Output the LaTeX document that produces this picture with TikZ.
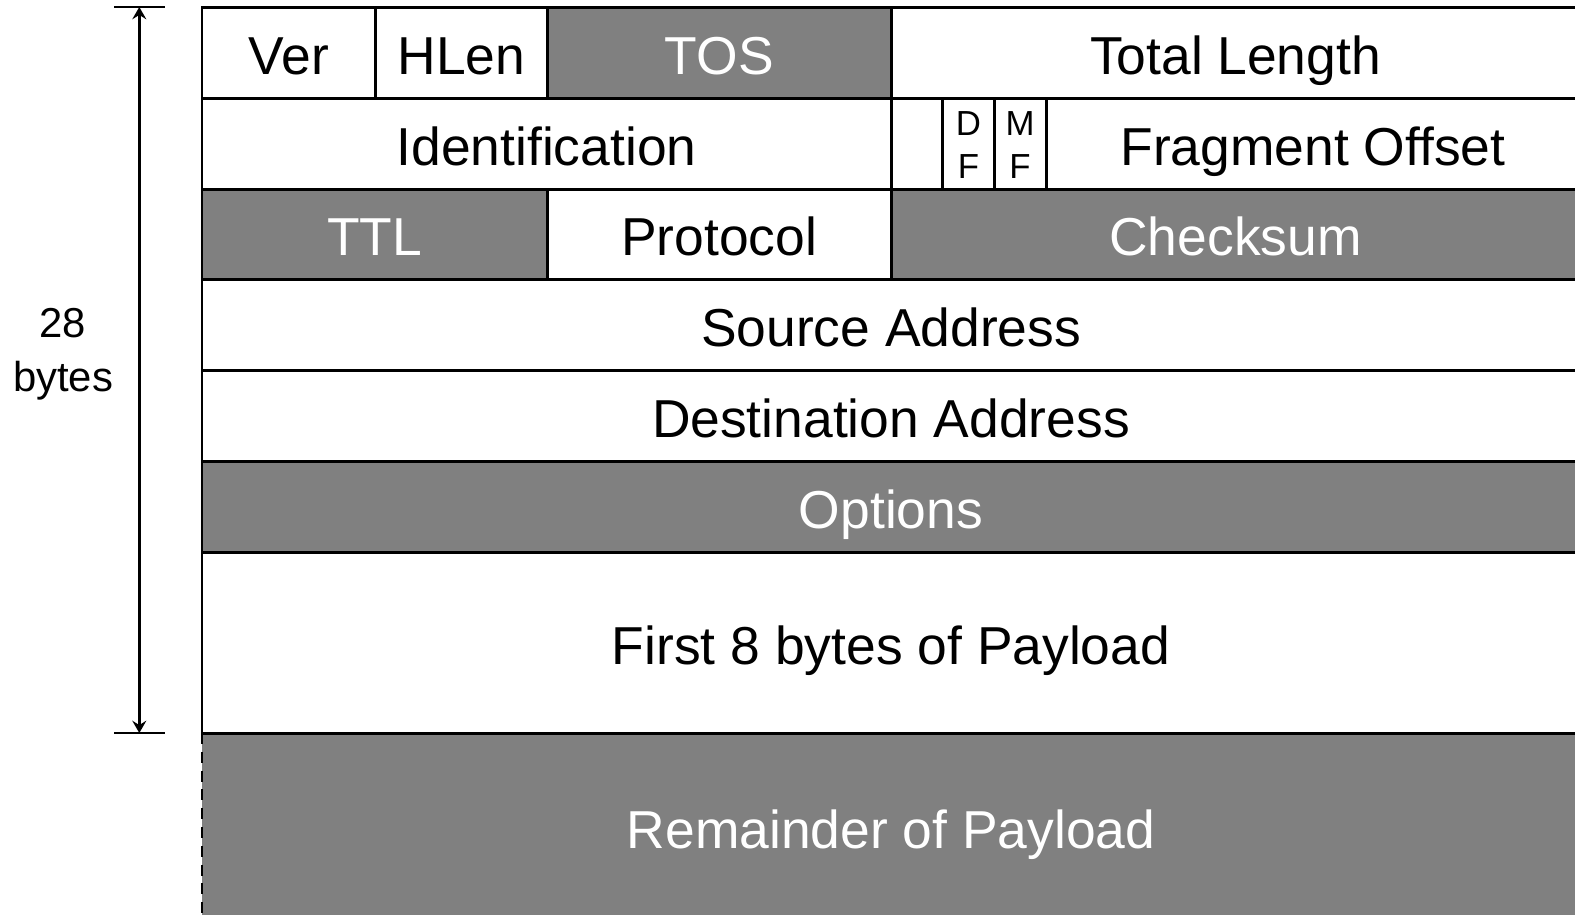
\documentclass[tikz,border=0pt]{standalone}
\usepackage{fontspec}
\setmainfont{Liberation Sans}
\usetikzlibrary{arrows.meta}

\begin{document}
\begin{tikzpicture}[x=0.02cm,y=-0.02cm,
    cell/.style={line width=1.7pt},
    lbl/.style={font=\fontsize{30.4}{36}\selectfont, text height=24.6pt, text depth=0pt, inner sep=0pt},
    lblw/.style={lbl, text=white},
    flag/.style={font=\fontsize{19.8}{24.7}\selectfont, align=center, inner sep=0pt},
    dimline/.style={line width=1.4pt}]
  \useasboundingbox (0,0) rectangle (1575,914);
  \clip (0,0) rectangle (1575,914);
  % shaded fields
  \fill[gray] (547.5,7) rectangle (891,98);
  \fill[gray] (202,189) rectangle (547.5,279.5);
  \fill[gray] (891,189) rectangle (1580,279.5);
  \fill[gray] (202,461) rectangle (1580,552);
  \fill[gray] (202,733) rectangle (1580,930);
  % row 1
  \draw[cell] (202,7) rectangle (375.5,98);
  \draw[cell] (375.5,7) rectangle (547.5,98);
  \draw[cell] (547.5,7) rectangle (891,98);
  \draw[cell] (891,7) rectangle (1580,98);
  \node[lbl] (ver) at (288.75,52.5) {Ver};
  \node[lbl] (hlen) at (461.5,52.5) {HLen};
  \node[lblw] (tos) at (719.25,52.5) {TOS};
  \node[lbl] (totlen) at (1235.5,52.5) {Total Length};
  % row 2
  \draw[cell] (202,98) rectangle (891,189);
  \draw[cell] (891,98) rectangle (942.7,189);
  \draw[cell] (942.7,98) rectangle (994,189);
  \draw[cell] (994,98) rectangle (1046,189);
  \draw[cell] (1046,98) rectangle (1580,189);
  \node[lbl] (ident) at (546.5,143.5) {Identification};
  \node[flag] (df) at (968.4,145) {D\\F};
  \node[flag] (mf) at (1020,145) {M\\F};
  \node[lbl] (fragoff) at (1313,143.5) {Fragment Offset};
  % row 3
  \draw[cell] (202,189) rectangle (547.5,279.5);
  \draw[cell] (547.5,189) rectangle (891,279.5);
  \draw[cell] (891,189) rectangle (1580,279.5);
  \node[lblw] (ttl) at (374.75,234.25) {TTL};
  \node[lbl] (proto) at (719.25,234.25) {Protocol};
  \node[lblw] (cksum) at (1235.5,234.25) {Checksum};
  % rows 4 to 7
  \draw[cell] (202,279.5) rectangle (1580,370);
  \draw[cell] (202,370) rectangle (1580,461);
  \draw[cell] (202,461) rectangle (1580,552);
  \draw[cell] (202,552) rectangle (1580,733);
  \node[lbl] (srcaddr) at (891,324.75) {Source Address};
  \node[lbl] (dstaddr) at (891,415.5) {Destination Address};
  \node[lblw] (opts) at (891,506.5) {Options};
  \node[lbl] (payload) at (891,642.5) {First 8 bytes of Payload};
  % rest of the packet
  \draw[cell, dash pattern=on 6.2pt off 4.5pt] (202,733) -- (202,930);
  \node[lblw] (rest) at (891,826.5) {Remainder of Payload};
  % header size
  \coordinate (sizetop) at (139.3,7);
  \coordinate (sizebot) at (139.3,733);
  \draw[dimline] (114,7) -- (165,7);
  \draw[dimline] (114,733) -- (165,733);
  \draw[dimline, {Stealth[length=7pt,width=8pt,inset=2.5pt]}-{Stealth[length=7pt,width=8pt,inset=2.5pt]}] (sizetop) -- (sizebot);
  \node[font=\fontsize{23.8}{30.6}\selectfont, align=center, inner sep=0pt] (size) at (63,354.5) {28\\bytes};
\end{tikzpicture}
\end{document}
